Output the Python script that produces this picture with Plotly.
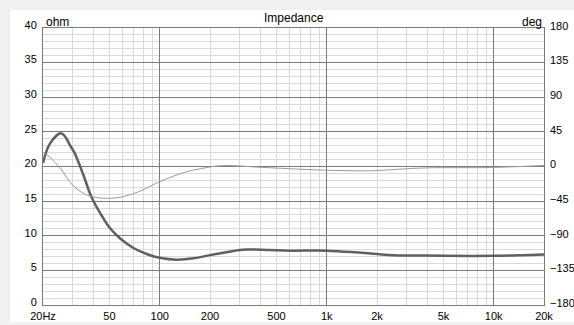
import plotly.graph_objects as go
import numpy as np

# ---- data ----
imp_freq = [20, 22, 25.5, 27, 29, 31, 35, 39, 46, 50, 58, 70, 85, 100, 126, 160, 200, 260,
            330, 450, 600, 1000, 1500, 2000, 2500, 3500, 5000, 10000, 15000, 20000]
imp_ohm = [20.5, 23.3, 24.8, 24.4, 23.1, 21.9, 18.7, 15.6, 12.5, 11.2, 9.6, 8.2, 7.3, 6.83,
           6.55, 6.75, 7.2, 7.7, 8.0, 7.95, 7.85, 7.85, 7.6, 7.36, 7.2, 7.15, 7.1, 7.1, 7.2, 7.3]

ph_freq = [20, 22, 25.5, 30, 35, 39, 46, 58, 75, 100, 145, 175, 208, 253, 400, 692, 1000,
           1820, 2700, 4100, 9400, 20000]
ph_deg = [18.5, 12, -3, -24, -35, -39, -41.3, -40, -32.7, -19.7, -6.7, -3, 0, 1.3, -1, -3.5,
          -4.8, -5.6, -3.5, -1.7, -1.3, 1.3]

x_tickvals = [20, 50, 100, 200, 500, 1000, 2000, 5000, 10000, 20000]
x_ticktext = ["20Hz", "50", "100", "200", "500", "1k", "2k", "5k", "10k", "20k"]
x_major = [100, 1000, 10000]
x_minor = [30, 40, 50, 60, 70, 80, 90, 200, 300, 400, 500, 600, 700, 800, 900,
           2000, 3000, 4000, 5000, 6000, 7000, 8000, 9000]

FONT = "Liberation Sans, Arial, sans-serif"
MAJ = "#7a7a7a"
MIN = "#dadada"

fig = go.Figure()
fig.add_trace(go.Scatter(x=ph_freq, y=ph_deg, yaxis="y2", mode="lines",
                         line=dict(color="#9a9a9a", width=1, shape="spline"),
                         showlegend=False, hoverinfo="skip"))
fig.add_trace(go.Scatter(x=imp_freq, y=imp_ohm, mode="lines",
                         line=dict(color="#606060", width=2.5, shape="spline"),
                         showlegend=False, hoverinfo="skip"))

xr = [np.log10(20), np.log10(20000)]
fig.update_layout(
    width=574, height=325,
    margin=dict(l=43, r=30, t=28, b=20, autoexpand=False),
    paper_bgcolor="white", plot_bgcolor="white",
    font=dict(family=FONT, size=11, color="#000000"),
    xaxis=dict(type="log", range=xr, tickvals=x_major, showticklabels=False,
               showgrid=True, gridcolor=MAJ, gridwidth=1, ticks="", automargin=False,
               minor=dict(tickvals=x_minor, showgrid=True, gridcolor=MIN, gridwidth=1, ticks=""),
               showline=True, linecolor=MAJ, linewidth=1, mirror=True, zeroline=False,
               fixedrange=True),
    xaxis2=dict(type="log", range=xr, overlaying="x", side="bottom", anchor="y",
                tickvals=x_tickvals, ticktext=x_ticktext, showgrid=False, ticks="",
                showline=False, zeroline=False, ticklabelstandoff=3, automargin=False,
                tickfont=dict(family=FONT, size=11, color="#000000")),
    yaxis=dict(range=[0, 40], dtick=5, tick0=0, showgrid=True, gridcolor=MAJ, gridwidth=1,
               minor=dict(dtick=1, showgrid=True, gridcolor=MIN, gridwidth=1, ticks=""),
               ticks="", zeroline=False, showline=True, linecolor=MAJ, mirror=True,
               ticklabelstandoff=3, ticklabelshift=-3, automargin=False,
               tickfont=dict(family=FONT, size=11, color="#000000")),
    yaxis2=dict(range=[-180, 180], dtick=45, tick0=-180, overlaying="y", side="right",
                showgrid=False, zeroline=False, ticks="", ticklabelstandoff=5,
                ticklabelshift=-2, automargin=False,
                tickfont=dict(family=FONT, size=11, color="#000000")),
)

# dummy trace to activate xaxis2
fig.add_trace(go.Scatter(x=[20], y=[None], xaxis="x2", showlegend=False, hoverinfo="skip"))

# window frame strips
fig.add_shape(type="rect", xref="paper", yref="paper",
              x0=-43 / 501, x1=531 / 501, y0=1 + 18 / 277, y1=1 + 28 / 277,
              fillcolor="#f0f0f0", line=dict(width=0), layer="below")
fig.add_shape(type="rect", xref="paper", yref="paper",
              x0=-43 / 501, x1=-33 / 501, y0=-20 / 277, y1=1 + 28 / 277,
              fillcolor="#f0f0f0", line=dict(width=0), layer="below")
fig.add_shape(type="rect", xref="paper", yref="paper",
              x0=-43 / 501, x1=531 / 501, y0=-20 / 277, y1=-17 / 277,
              fillcolor="#f0f0f0", line=dict(width=0), layer="below")

# annotations
fig.add_annotation(text="Impedance", xref="paper", yref="paper", x=0.5, y=1 + 10 / 277,
                   showarrow=False, xanchor="center", yanchor="middle",
                   font=dict(family=FONT, size=12, color="#000000"))
fig.add_annotation(text="ohm", xref="paper", yref="paper", x=1 / 501, y=1 + 6.5 / 277,
                   showarrow=False, xanchor="left", yanchor="middle",
                   font=dict(family=FONT, size=12, color="#000000"))
fig.add_annotation(text="deg", xref="paper", yref="paper", x=1, y=1 + 6.5 / 277,
                   showarrow=False, xanchor="right", yanchor="middle",
                   font=dict(family=FONT, size=12, color="#000000"))

fig.write_html("out.html")
